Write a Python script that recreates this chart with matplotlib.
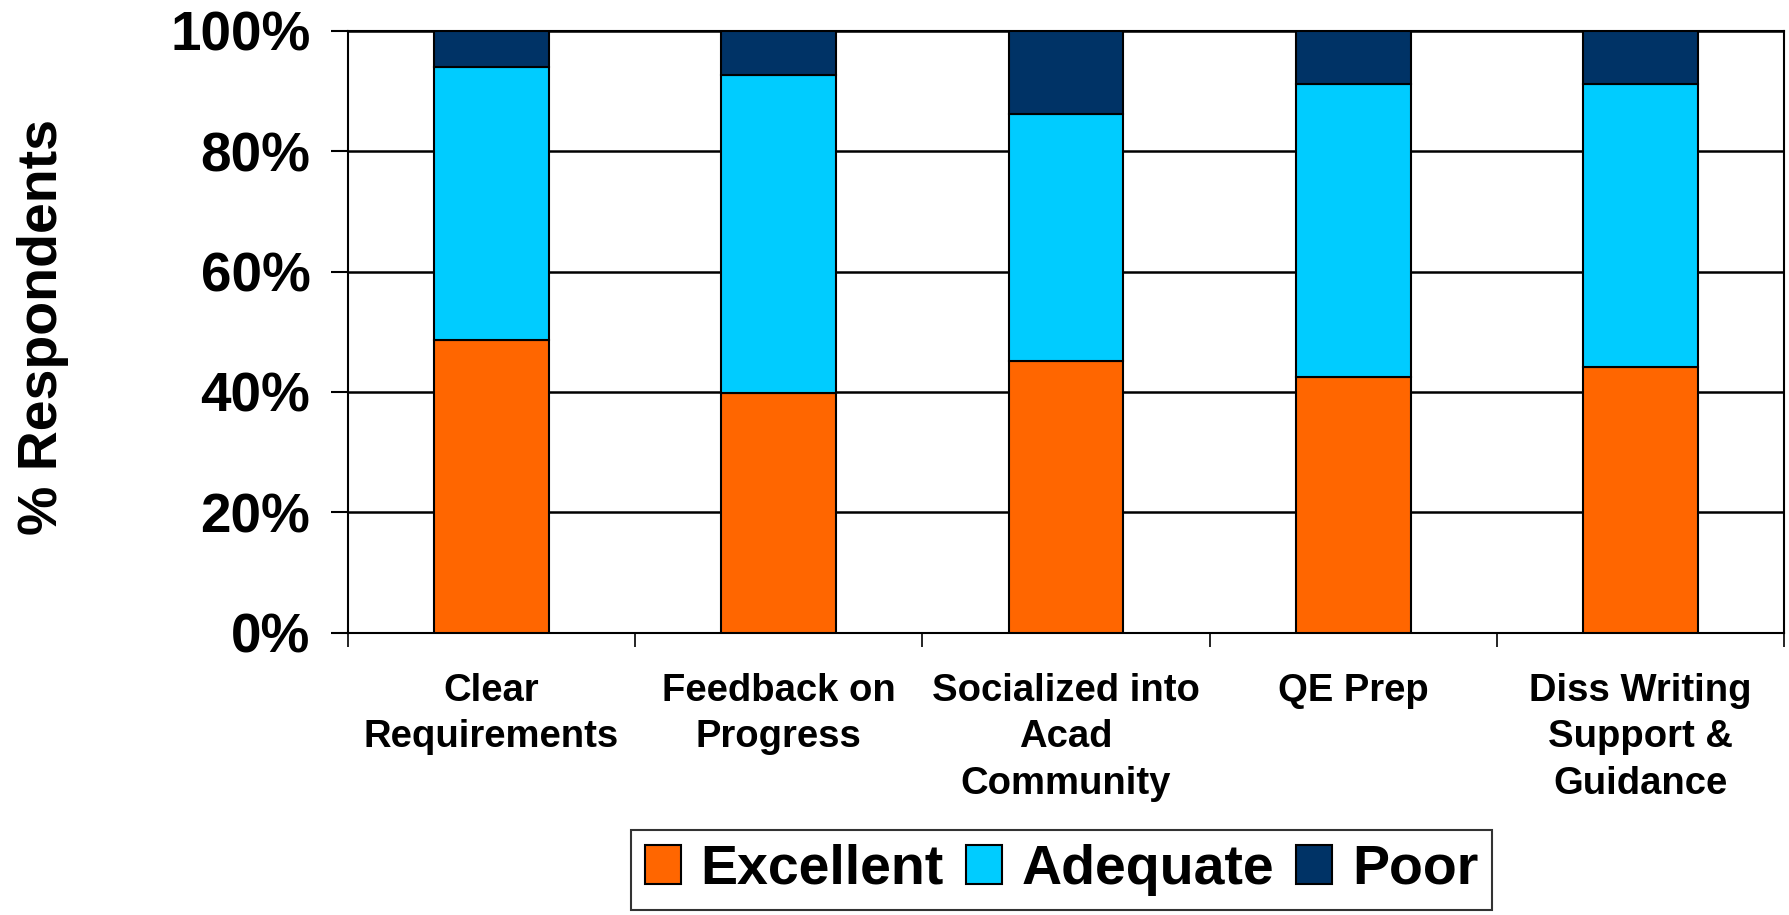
import numpy as np
import matplotlib.pyplot as plt
from matplotlib.ticker import FixedLocator, PercentFormatter

plt.rcParams['font.family'] = ['Liberation Sans', 'DejaVu Sans']
plt.rcParams['font.weight'] = 'bold'

# data (percent of respondents)
categories = ["Clear\nRequirements", "Feedback on\nProgress", "Socialized into\nAcad\nCommunity",
              "QE Prep", "Diss Writing\nSupport &\nGuidance"]
excellent = np.array([48.7, 39.8, 45.2, 42.5, 44.2])
adequate = np.array([45.3, 52.8, 40.9, 48.6, 46.9])
poor = np.array([6.0, 7.4, 13.9, 8.9, 8.9])

colors = ["#FF6600", "#00CCFF", "#003366"]

fig = plt.figure(figsize=(17.9, 9.15), dpi=100)
ax = fig.add_axes([0.1944, 0.3087, 0.8022, 0.6576])

x = np.arange(len(categories))
w = 0.40
ax.bar(x, excellent, w, color=colors[0], edgecolor='black', linewidth=1.5, label='Excellent', zorder=3)
ax.bar(x, adequate, w, bottom=excellent, color=colors[1], edgecolor='black', linewidth=1.5,
       label='Adequate', zorder=3)
ax.bar(x, poor, w, bottom=excellent + adequate, color=colors[2], edgecolor='black', linewidth=1.5,
       label='Poor', zorder=3)

ax.set_xlim(-0.5, len(categories) - 0.5)
ax.set_ylim(0, 100)
ax.set_yticks(np.arange(0, 101, 20))
ax.yaxis.set_major_formatter(PercentFormatter(decimals=0))
ax.yaxis.grid(True, color='black', linewidth=1.8, zorder=0)
ax.tick_params(axis='y', labelsize=39.5, length=12, width=1.5, pad=15, direction='out')

# category labels at centres, tick marks at the boundaries
ax.set_xticks(x)
ax.set_xticklabels(categories, fontsize=27.5, linespacing=1.37)
ax.tick_params(axis='x', which='major', length=0, pad=29)
ax.xaxis.set_minor_locator(FixedLocator(np.arange(-0.5, len(categories), 1.0)))
ax.tick_params(axis='x', which='minor', length=10, width=1.2, direction='out')

for s in ax.spines.values():
    s.set_linewidth(1.5)
    s.set_color('black')

ax.set_ylabel('% Respondents', fontsize=40, fontweight='bold')
ax.yaxis.set_label_coords(-0.194, 0.508)

leg = fig.legend(loc='upper center', bbox_to_anchor=(0.593, 0.093), ncol=3, fontsize=40,
                 frameon=True, fancybox=False, edgecolor='black', handlelength=0.65,
                 handleheight=0.7, handletextpad=0.35, columnspacing=0.4, borderpad=0.25,
                 borderaxespad=0)
leg.get_frame().set_linewidth(1.5)

fig.savefig('out.png', dpi=100)
